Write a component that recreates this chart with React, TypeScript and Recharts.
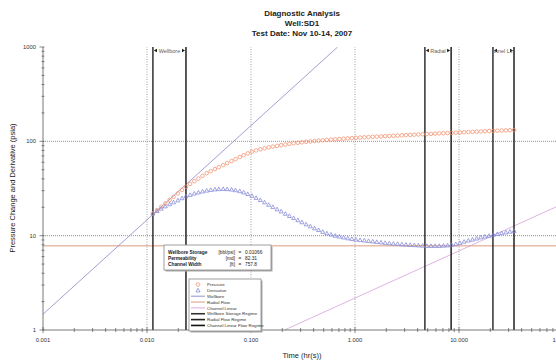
import React from 'react';
import { ComposedChart, XAxis, YAxis, Scatter, Line, ReferenceLine, ReferenceArea } from 'recharts';

// Elapsed time of each gauge sample (hr)
const times = [
  0.0114, 0.0125, 0.0137, 0.015, 0.0165, 0.018, 0.0198, 0.0217, 0.0237, 0.026,
  0.0285, 0.0312, 0.0342, 0.0375, 0.041, 0.045, 0.049, 0.054, 0.059, 0.065,
  0.071, 0.078, 0.085, 0.093, 0.102, 0.112, 0.123, 0.135, 0.148, 0.162,
  0.178, 0.195, 0.214, 0.234, 0.257, 0.282, 0.309, 0.339, 0.372, 0.408,
  0.447, 0.49, 0.537, 0.589, 0.646, 0.708, 0.776, 0.851, 0.933, 1.02,
  1.12, 1.23, 1.35, 1.48, 1.62, 1.78, 1.95, 2.14, 2.34, 2.57,
  2.82, 3.09, 3.39, 3.72, 4.07, 4.47, 4.9, 5.37, 5.89, 6.46,
  7.08, 7.76, 8.51, 9.33, 10.2, 11.2, 12.3, 13.5, 14.8, 16.2,
  17.8, 19.5, 21.4, 23.4, 25.7, 28.2, 30.9, 33.9,
];

// Pressure change (psia)
const pressure = [
  17.2, 18.7, 20.3, 22.0, 23.9, 25.8, 28.1, 30.5, 33.0, 35.3,
  37.8, 40.3, 43.1, 46.0, 48.3, 50.8, 53.2, 56.0, 58.7, 61.8,
  64.7, 68.1, 71.3, 74.6, 77.6, 80.2, 82.4, 84.4, 86.3, 88.0,
  89.5, 91.0, 92.5, 94.0, 95.3, 96.5, 97.7, 98.8, 99.8, 100.8,
  101.7, 102.6, 103.5, 104.3, 105.1, 105.9, 106.7, 107.5, 108.3, 109.0,
  109.7, 110.4, 111.0, 111.6, 112.2, 112.8, 113.4, 114.0, 114.6, 115.2,
  115.8, 116.4, 117.0, 117.6, 118.2, 118.8, 119.4, 120.0, 120.6, 121.2,
  121.8, 122.4, 123.0, 123.6, 124.2, 124.8, 125.4, 126.0, 126.6, 127.2,
  127.8, 128.4, 129.0, 129.6, 130.1, 130.6, 131.1, 131.6,
];

// Pressure derivative (psia)
const derivative = [
  17.2, 18.3, 19.4, 20.5, 21.6, 22.6, 23.7, 25.0, 26.2, 27.1,
  28.0, 28.8, 29.5, 30.1, 30.6, 31.0, 31.2, 31.3, 31.2, 30.9,
  30.4, 29.7, 28.8, 27.7, 26.5, 25.2, 23.9, 22.6, 21.3, 20.2,
  19.1, 18.1, 17.1, 16.2, 15.4, 14.6, 13.9, 13.2, 12.6, 12.0,
  11.5, 11.0, 10.6, 10.3, 10.0, 9.8, 9.6, 9.4, 9.25, 9.1,
  9.0, 8.9, 8.8, 8.7, 8.6, 8.5, 8.4, 8.3, 8.25, 8.2,
  8.1, 8.05, 8.0, 7.95, 7.9, 7.85, 7.8, 7.8, 7.8, 7.8,
  7.85, 7.9, 8.0, 8.15, 8.4, 8.65, 8.9, 9.1, 9.35, 9.6,
  9.8, 10.0, 10.25, 10.45, 10.65, 10.85, 11.05, 11.25,
];

// Straight-line fits (end points)
const wellboreLine = [{ t: 0.001, v: 1.47 }, { t: 0.68, v: 1000 }];
const radialLine = [{ t: 0.001, v: 7.8 }, { t: 100, v: 7.8 }];
const channelLine = [{ t: 0.21, v: 1 }, { t: 100, v: 21.8 }];

const regimes = [
  { name: 'Wellbore', from: 0.0114, to: 0.0237 },
  { name: 'Radial', from: 4.7, to: 8.4 },
  { name: 'Channel Linear', from: 21.2, to: 33.8 },
];

const xMajor = [0.001, 0.01, 0.1, 1, 10, 100];
const xLabels = ['0.001', '0.010', '0.100', '1.000', '10.000', '100.000'];
const yMajor = [1, 10, 100, 1000];
const yLabels = ['1', '10', '100', '1000'];
const xGrid = [0.01, 0.1, 1, 10];
const yGrid = [10, 100];

const results = [
  { name: 'Wellbore Storage', unit: '[bbl/psi]', value: '0.01066' },
  { name: 'Permeability', unit: '[md]', value: '82.31' },
  { name: 'Channel Width', unit: '[ft]', value: '757.8' },
];

const pressureData = times.map((t, i) => ({ t, v: pressure[i] }));
const derivativeData = times.map((t, i) => ({ t, v: derivative[i] }));

const withMinors = (majors: number[]) => {
  const out: number[] = [];
  majors.forEach((m, i) => {
    out.push(m);
    if (i < majors.length - 1) for (let k = 2; k <= 9; k++) out.push(m * k);
  });
  return out;
};

const majorIndex = (list: number[], v: number) => list.findIndex((m) => Math.abs(m - v) / m < 1e-6);

const FONT = '"Liberation Sans", Arial, sans-serif';
const AXIS = '#555';

const XTick = (props: any) => {
  const { x, y, payload } = props;
  const i = majorIndex(xMajor, payload.value);
  const len = i >= 0 ? 3 : 2;
  return (
    <g>
      <line x1={x} x2={x} y1={y - len} y2={y + len} stroke={AXIS} strokeWidth={0.7} />
      {i >= 0 && (
        <text x={x} y={y + 12} textAnchor="middle" fontSize={5.8} fill="#333" fontFamily={FONT}>
          {xLabels[i]}
        </text>
      )}
    </g>
  );
};

const YTick = (props: any) => {
  const { x, y, payload } = props;
  const i = majorIndex(yMajor, payload.value);
  return (
    <g>
      <line x1={x - (i >= 0 ? 3.5 : 1.5)} x2={x + 1.5} y1={y} y2={y} stroke={AXIS} strokeWidth={0.7} />
      {i >= 0 && (
        <text x={x - 7} y={y + 2} textAnchor="end" fontSize={5.8} fill="#333" fontFamily={FONT}>
          {yLabels[i]}
        </text>
      )}
    </g>
  );
};

const Ring = (p: any) => (
  <circle cx={p.cx} cy={p.cy} r={1.8} fill="none" stroke="#f2906e" strokeWidth={0.75} />
);

const Tri = (p: any) => {
  const { cx, cy } = p;
  const s = 2;
  return (
    <path
      d={`M${cx},${cy - s} L${cx + s},${cy + s * 0.8} L${cx - s},${cy + s * 0.8} Z`}
      fill="none"
      stroke="#8086d6"
      strokeWidth={0.75}
    />
  );
};

// arrows + name at the top of a flow-regime band, clipped to the band
const regimeTag = (name: string) => (p: any) => {
  const { x, y, width } = p;
  const id = `clip-${name.replace(/\s/g, '')}`;
  const cy = y + 3.5;
  return (
    <g>
      <defs>
        <clipPath id={id}>
          <rect x={x + 1} y={y} width={Math.max(width - 2, 0)} height={10} />
        </clipPath>
      </defs>
      <path d={`M${x + 1},${cy} L${x + 4},${cy - 1.8} L${x + 4},${cy + 1.8} Z`} fill="#111" />
      <path d={`M${x + width - 1},${cy} L${x + width - 4},${cy - 1.8} L${x + width - 4},${cy + 1.8} Z`} fill="#111" />
      <text x={x + width / 2} y={cy + 2} textAnchor="middle" fontSize={5.5} fill="#6a5a55" fontFamily={FONT} clipPath={`url(#${id})`}>
        {name}
      </text>
    </g>
  );
};

const legendItems = [
  { label: 'Pressure', kind: 'ring' },
  { label: 'Derivative', kind: 'tri' },
  { label: 'Wellbore', kind: 'line', color: '#8a86c8', w: 0.9 },
  { label: 'Radial Flow', kind: 'line', color: '#d8906e', w: 0.9 },
  { label: 'Channel Linear', kind: 'line', color: '#d8a0d8', w: 0.9 },
  { label: 'Wellbore Storage Regime', kind: 'line', color: '#333', w: 1.6 },
  { label: 'Radial Flow Regime', kind: 'line', color: '#222', w: 1.6 },
  { label: 'Channel Linear Flow Regime', kind: 'line', color: '#111', w: 1.6 },
];

export default function App() {
  return (
    <div style={{ position: 'absolute', left: 0, top: 0, width: 556, height: 362, overflow: 'hidden', background: '#fff' }}>
      <ComposedChart width={600} height={362} margin={{ top: 47, right: 37, left: 0, bottom: 0 }}>
        <XAxis
          dataKey="t"
          type="number"
          scale="log"
          domain={[0.001, 100]}
          allowDataOverflow
          ticks={withMinors(xMajor)}
          interval={0}
          height={32}
          tickSize={0}
          tickMargin={0}
          tickLine={false}
          tick={<XTick />}
          axisLine={{ stroke: AXIS, strokeWidth: 0.8 }}
        />
        <YAxis
          dataKey="v"
          type="number"
          scale="log"
          domain={[1, 1000]}
          allowDataOverflow
          ticks={withMinors(yMajor)}
          interval={0}
          width={43}
          tickSize={0}
          tickMargin={0}
          tickLine={false}
          tick={<YTick />}
          axisLine={{ stroke: AXIS, strokeWidth: 0.8 }}
        />
        {xGrid.map((g) => (
          <ReferenceLine key={`gx${g}`} x={g} stroke="#888" strokeWidth={0.8} strokeDasharray="1 1.5" />
        ))}
        {yGrid.map((g) => (
          <ReferenceLine key={`gy${g}`} y={g} stroke="#888" strokeWidth={0.9} strokeDasharray="1 1" />
        ))}
        <Line data={radialLine} dataKey="v" type="linear" stroke="#d8906e" strokeWidth={0.9} dot={false} isAnimationActive={false} />
        <Line data={wellboreLine} dataKey="v" type="linear" stroke="#8a86c8" strokeWidth={0.8} dot={false} isAnimationActive={false} />
        <Line data={channelLine} dataKey="v" type="linear" stroke="#d8a0d8" strokeWidth={0.8} dot={false} isAnimationActive={false} />
        {regimes.map((r) => (
          <ReferenceLine key={`a${r.name}`} x={r.from} stroke="#222" strokeWidth={1.4} />
        ))}
        {regimes.map((r) => (
          <ReferenceLine key={`b${r.name}`} x={r.to} stroke="#111" strokeWidth={1.4} />
        ))}
        {regimes.map((r) => (
          <ReferenceArea key={`t${r.name}`} x1={r.from} x2={r.to} shape={regimeTag(r.name)} />
        ))}
        <Scatter data={pressureData} dataKey="v" shape={<Ring />} isAnimationActive={false} />
        <Scatter data={derivativeData} dataKey="v" shape={<Tri />} isAnimationActive={false} />
      </ComposedChart>

      <svg width={556} height={362} style={{ position: 'absolute', left: 0, top: 0, pointerEvents: 'none' }} fontFamily={FONT}>
        <g fontSize={8} fontWeight="bold" fill="#222" textAnchor="middle">
          <text x={302} y={16}>Diagnostic Analysis</text>
          <text x={302} y={26}>Well:SD1</text>
          <text x={302} y={36}>Test Date: Nov 10-14, 2007</text>
        </g>
        <text x={302} y={358} textAnchor="middle" fontSize={7.5} fill="#222">Time (hr(s))</text>
        <text x={15} y={188} textAnchor="middle" fontSize={7.5} fill="#222" transform="rotate(-90 15 188)">
          Pressure Change and Derivative (psia)
        </text>

        {/* fitted results */}
        <rect x={165.5} y={246.5} width={107} height={25} fill="#aaa" />
        <rect x={164} y={245} width={107} height={25} fill="#fff" stroke="#888" strokeWidth={0.8} />
        {results.map((r, i) => (
          <g key={r.name} fontSize={4.8} fill="#222">
            <text x={168} y={253.5 + i * 6.2} fontWeight="bold">{r.name}</text>
            <text x={235} y={253.5 + i * 6.2} textAnchor="end">{r.unit}</text>
            <text x={238.5} y={253.5 + i * 6.2}>=</text>
            <text x={245} y={253.5 + i * 6.2}>{r.value}</text>
          </g>
        ))}

        {/* legend */}
        <rect x={190.5} y={280.5} width={72} height={52} fill="#aaa" />
        <rect x={189} y={279} width={72} height={52} fill="#fff" stroke="#888" strokeWidth={0.8} />
        {legendItems.map((it, i) => {
          const cy = 284.5 + i * 5.85;
          return (
            <g key={it.label}>
              {it.kind === 'ring' && <Ring cx={198} cy={cy} />}
              {it.kind === 'tri' && <Tri cx={198} cy={cy} />}
              {it.kind === 'line' && <line x1={191} x2={205} y1={cy} y2={cy} stroke={it.color} strokeWidth={it.w} />}
              <text x={207} y={cy + 1.6} fontSize={4.4} fill="#333">{it.label}</text>
            </g>
          );
        })}
      </svg>
    </div>
  );
}
